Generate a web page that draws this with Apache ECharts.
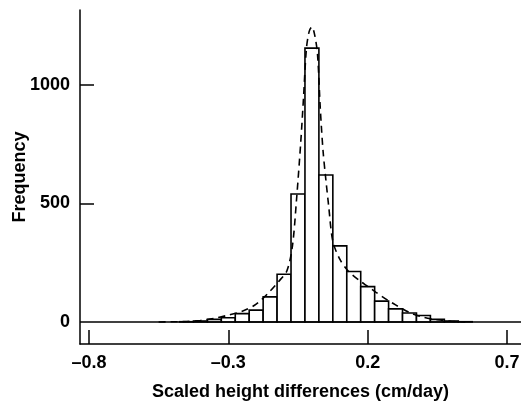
<!DOCTYPE html>
<html>
<head>
    <meta charset="UTF-8">
    <title>Scaled height differences</title>
    <script src="https://cdn.jsdelivr.net/npm/echarts@6/dist/echarts.min.js"></script>
    <style>
        html, body { margin: 0; padding: 0; background: #fff; }
    </style>
</head>
<body>
    <div id="main" style="width: 521px;height:407px;"></div>
    <script>
        // histogram bins (centre of each 0.05 wide bin) and their counts
        var binWidth = 0.05;
        var binCenters = [-0.45, -0.40, -0.35, -0.30, -0.25, -0.20, -0.15, -0.10, -0.05, 0.00,
                          0.05, 0.10, 0.15, 0.20, 0.25, 0.30, 0.35, 0.40, 0.45, 0.50, 0.55];
        var binCounts = [1, 4, 11, 18, 35, 50, 106, 201, 540, 1155,
                         620, 321, 213, 149, 88, 55, 38, 27, 11, 4, 1];
        // fitted density (dashed curve)
        var curveX = [-0.55, -0.45, -0.40, -0.35, -0.30, -0.25, -0.20, -0.15, -0.12, -0.09, -0.07, -0.055,
                      -0.04, -0.03, -0.02, -0.01, 0.00, 0.01, 0.02, 0.03, 0.04, 0.05, 0.06, 0.075,
                      0.10, 0.13, 0.17, 0.20, 0.23, 0.27, 0.30, 0.35, 0.40, 0.45, 0.50, 0.55];
        var curveY = [0, 2, 6, 15, 29, 45, 75, 130, 170, 215, 320, 520,
                      760, 950, 1150, 1225, 1245, 1210, 1130, 900, 720, 600, 490, 340,
                      265, 215, 175, 150, 125, 93, 72, 40, 20, 9, 3, 0];
        var xTicks = [-0.8, -0.3, 0.2, 0.7];
        var yTicks = [500, 1000];
        var yLabels = [0, 500, 1000];

        var histData = [];
        for (var i = 0; i < binCenters.length; i++) {
            histData.push([binCenters[i], binCounts[i]]);
        }
        var curveData = [];
        for (var j = 0; j < curveX.length; j++) {
            curveData.push([curveX[j], curveY[j]]);
        }

        var fontFam = '"Liberation Sans", Arial, Helvetica, sans-serif';
        var chart = echarts.init(document.getElementById('main'));
        chart.setOption({
            animation: false,
            grid: { left: 80, right: 0, top: 10, bottom: 63, outerBoundsMode: 'none', containLabel: false },
            xAxis: {
                type: 'value',
                min: -0.832,
                max: 0.75,
                name: 'Scaled height differences (cm/day)',
                nameLocation: 'middle',
                nameGap: 39,
                nameMoveOverlap: false,
                nameTextStyle: { color: '#000', fontSize: 18, fontWeight: 'bold', fontFamily: fontFam },
                axisLine: { show: true, onZero: false, lineStyle: { color: '#000', width: 1.5 } },
                axisTick: { show: true, inside: true, length: 14, customValues: xTicks,
                            lineStyle: { color: '#000', width: 1.5 } },
                axisLabel: {
                    customValues: xTicks, margin: 10,
                    color: '#000', fontSize: 18, fontWeight: 'bold', fontFamily: fontFam,
                    formatter: function (v) { return (v < 0 ? '\u2013' : '') + Math.abs(v).toFixed(1); }
                },
                splitLine: { show: false }
            },
            yAxis: {
                type: 'value',
                min: -93,
                max: 1316,
                name: 'Frequency',
                nameLocation: 'middle',
                nameGap: 51,
                nameMoveOverlap: false,
                nameTextStyle: { color: '#000', fontSize: 18, fontWeight: 'bold', fontFamily: fontFam },
                axisLine: { show: true, onZero: false, lineStyle: { color: '#000', width: 1.5 } },
                axisTick: { show: true, inside: true, length: 14, customValues: yTicks,
                            lineStyle: { color: '#000', width: 1.5 } },
                axisLabel: {
                    customValues: yLabels, margin: 10,
                    color: '#000', fontSize: 18, fontWeight: 'bold', fontFamily: fontFam,
                    formatter: function (v) { return String(v); }
                },
                splitLine: { show: false }
            },
            series: [{
                type: 'custom',
                data: histData,
                encode: { x: 0, y: 1 },
                z: 2,
                renderItem: function (params, api) {
                    var c = api.value(0), h = api.value(1);
                    var p0 = api.coord([c - binWidth / 2, 0]);
                    var p1 = api.coord([c + binWidth / 2, h]);
                    return {
                        type: 'rect',
                        shape: { x: p0[0], y: p1[1], width: p1[0] - p0[0], height: p0[1] - p1[1] },
                        style: { fill: '#fff', stroke: '#000', lineWidth: 1.6 }
                    };
                }
            }, {
                type: 'line',
                data: curveData,
                showSymbol: false,
                smooth: 0.3,
                z: 3,
                lineStyle: { color: '#000', width: 1.6, type: [7, 5] },
                markLine: {
                    silent: true,
                    symbol: 'none',
                    label: { show: false },
                    lineStyle: { color: '#000', width: 1.5, type: 'solid' },
                    data: [{ yAxis: 0 }]
                }
            }]
        });
    </script>
</body>
</html>
